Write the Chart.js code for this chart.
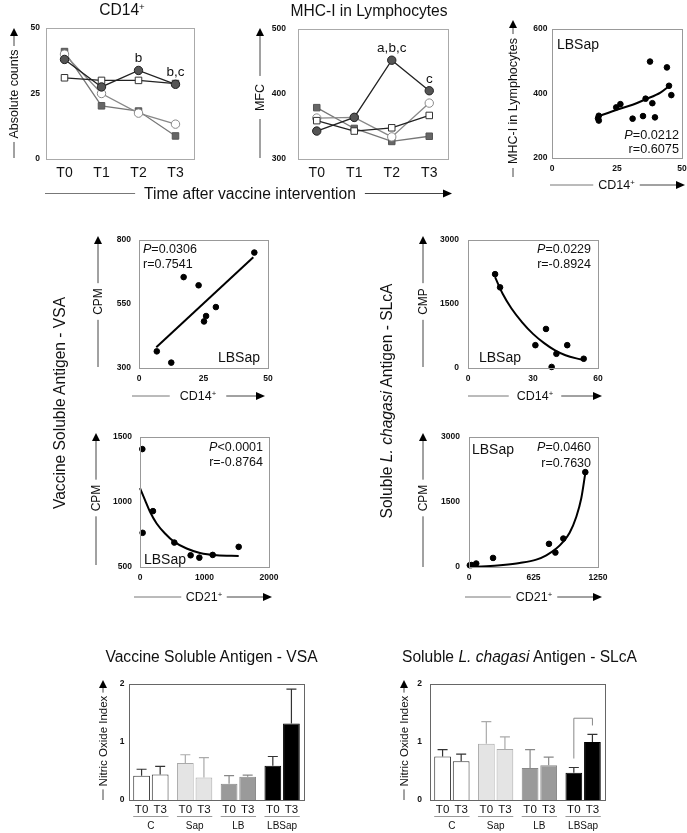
<!DOCTYPE html>
<html>
<head>
<meta charset="utf-8">
<script src="https://cdn.jsdelivr.net/npm/chart.js@4.4.1/dist/chart.umd.min.js"></script>
<style>
  body { margin: 0; background: #fff; }
  #fig { position: relative; width: 687px; height: 833px; overflow: hidden; }
  #fig canvas { position: absolute; }
  #deco { position: absolute; left: 0; top: 0; z-index: 2; pointer-events: none; }
</style>
</head>
<body>
<div id="fig"><svg id="deco" width="687" height="833" xmlns="http://www.w3.org/2000/svg"></svg></div>
<script>
// ---- data ----
const timepoints = ['T0', 'T1', 'T2', 'T3'];
const cd14C = [31, 30, 30, 28.8];
const cd14Sap = [40, 25, 17.5, 13.3];
const cd14LB = [41, 20.3, 18.3, 8.8];
const cd14LBSap = [38, 27.5, 33.8, 28.5];
const cd14Sig = ['', '', 'b', 'b,c'];
const mhcC = [359, 343, 348, 367];
const mhcSap = [363, 364, 334, 386];
const mhcLB = [379, 347, 327, 335];
const mhcLBSap = [343, 364, 452, 405];
const mhcSig = ['', '', 'a,b,c', 'c'];

// MHC-I vs CD14+ (LBSap)
const mhcCd14X = [17.7, 18, 18, 24.7, 26.3, 31, 35, 36, 37.7, 38.6, 39.6, 44.2, 45, 45.9];
const mhcCd14Y = [323, 316, 331, 357, 367, 322, 330, 384, 499, 370, 326, 481, 424, 395];
const mhcCd14FitX = [17.7, 24.7, 31, 36, 41.7, 45.5];
const mhcCd14FitY = [329, 349, 365, 382, 403, 426];

// VSA CPM vs CD14+
const vsaCd14X = [6.9, 12.5, 17.3, 23.1, 25.2, 26, 29.8, 44.7];
const vsaCd14Y = [365, 321, 655, 623, 482, 503, 538, 751];
const vsaCd14FitX = [6.7, 44.3];
const vsaCd14FitY = [381, 733];

// SLcA CMP vs CD14+
const slcaCd14X = [12.5, 14.8, 31.1, 36, 38.6, 40.8, 45.8, 53.4];
const slcaCd14Y = [2200, 1890, 535, 915, 25, 333, 535, 217];
const slcaCd14FitX = [12.5, 16, 20, 25, 30, 35, 40, 45, 50, 53.4];
const slcaCd14FitY = [2130, 1740, 1400, 1070, 800, 590, 420, 300, 225, 190];

// VSA CPM vs CD21+
const vsaCd21X = [36, 41, 201, 532, 785, 920, 1127, 1530];
const vsaCd21Y = [1407, 763, 930, 688, 590, 572, 593, 655];
const vsaCd21FitX = [0, 78, 155, 258, 388, 532, 723, 930, 1189, 1530];
const vsaCd21FitY = [1106, 1015, 925, 835, 758, 693, 642, 608, 590, 585];

// SLcA CPM vs CD21+
const slcaCd21X = [8, 25, 70, 233, 775, 837, 914, 1127];
const slcaCd21Y = [40, 45, 80, 209, 534, 333, 657, 2189];
const slcaCd21FitX = [0, 168, 329, 491, 652, 749, 846, 911, 975, 1040, 1088, 1127];
const slcaCd21FitY = [0, 15, 46, 93, 170, 271, 425, 580, 789, 1160, 1585, 2165];

// nitric oxide index
const groups = ['C', 'Sap', 'LB', 'LBSap'];
const vsaT0 = [0.42, 0.64, 0.28, 0.59];
const vsaT0Err = [0.11, 0.14, 0.14, 0.16];
const vsaT3 = [0.44, 0.39, 0.40, 1.32];
const vsaT3Err = [0.14, 0.34, 0.03, 0.59];
const slcaT0 = [0.75, 0.97, 0.55, 0.47];
const slcaT0Err = [0.12, 0.38, 0.32, 0.09];
const slcaT3 = [0.67, 0.88, 0.60, 1.00];
const slcaT3Err = [0.12, 0.21, 0.14, 0.13];

// ---- setup ----
const FONT = '"Liberation Sans", Arial, Helvetica, sans-serif';
Chart.defaults.font.family = FONT;
Chart.defaults.color = '#111';
Chart.defaults.animation = false;

const YW = 32, PT = 8, PR = 14;
const fig = document.getElementById('fig');
const svg = document.getElementById('deco');
const NS = 'http://www.w3.org/2000/svg';

const groupFill = ['#ffffff', '#e4e4e4', '#9a9a9a', '#000000'];
const groupEdge = ['#333333', '#aaaaaa', '#888888', '#000000'];
const groupErr = ['#333333', '#aaaaaa', '#888888', '#333333'];

// plot boxes [left, top, right, bottom] on the page
const B1 = [46, 28, 194, 159];
const B2 = [298, 29, 448, 159];
const B3 = [552, 29, 682, 158];
const B4 = [139, 240, 268, 368];
const B5 = [468, 240, 598, 368];
const B6 = [140, 437, 269, 567];
const B7 = [469, 437, 598, 567];
const B8 = [129, 684, 304, 800];
const B9 = [430, 684, 605, 800];

const frame = color => ({
  id: 'frame',
  afterDraw(chart) {
    const { ctx, chartArea: a } = chart;
    ctx.save();
    ctx.strokeStyle = color;
    ctx.lineWidth = 1;
    ctx.strokeRect(Math.round(a.left) + 0.5, Math.round(a.top) + 0.5, Math.round(a.width), Math.round(a.height));
    ctx.restore();
  }
});

const sig = (di, labels) => ({
  id: 'sig',
  afterDatasetsDraw(chart) {
    const { ctx } = chart;
    const pts = chart.getDatasetMeta(di).data;
    ctx.save();
    ctx.font = '13.5px ' + FONT;
    ctx.fillStyle = '#111';
    ctx.textAlign = 'center';
    ctx.textBaseline = 'alphabetic';
    labels.forEach((s, i) => { if (s) ctx.fillText(s, pts[i].x, pts[i].y - 8); });
    ctx.restore();
  }
});

const errBars = (errs, bracket) => ({
  id: 'errBars',
  afterDatasetsDraw(chart) {
    const { ctx, scales: { y } } = chart;
    ctx.save();
    ctx.lineWidth = 1.2;
    const tops = chart.data.datasets.map((ds, i) => chart.getDatasetMeta(i).data.map((bar, j) => {
      const top = y.getPixelForValue(ds.data[j] + errs[i][j]);
      ctx.strokeStyle = groupErr[j];
      ctx.beginPath();
      ctx.moveTo(bar.x, bar.y);
      ctx.lineTo(bar.x, top);
      ctx.moveTo(bar.x - 5, top);
      ctx.lineTo(bar.x + 5, top);
      ctx.stroke();
      return top;
    }));
    if (bracket) {
      const j = bracket.group, yl = y.getPixelForValue(bracket.level);
      const b0 = chart.getDatasetMeta(0).data[j], b1 = chart.getDatasetMeta(1).data[j];
      ctx.strokeStyle = '#888';
      ctx.lineWidth = 1;
      ctx.beginPath();
      ctx.moveTo(b0.x, tops[0][j] - bracket.gap);
      ctx.lineTo(b0.x, yl);
      ctx.lineTo(b1.x, yl);
      ctx.lineTo(b1.x, tops[1][j] - bracket.gap);
      ctx.stroke();
    }
    ctx.restore();
  }
});

// T0/T3 under each bar, a rule and the group name under each pair
const barAxis = {
  id: 'barAxis',
  afterDraw(chart) {
    const { ctx, chartArea: a } = chart;
    ctx.save();
    ctx.fillStyle = '#111';
    ctx.textAlign = 'center';
    ctx.textBaseline = 'middle';
    ctx.font = '11.5px ' + FONT;
    chart.data.datasets.forEach((ds, i) => {
      chart.getDatasetMeta(i).data.forEach(bar => ctx.fillText(ds.label, bar.x, a.bottom + 10));
    });
    const m0 = chart.getDatasetMeta(0).data, m1 = chart.getDatasetMeta(1).data;
    ctx.font = '10px ' + FONT;
    ctx.strokeStyle = '#999';
    ctx.lineWidth = 1;
    chart.data.labels.forEach((g, j) => {
      const x0 = m0[j].x - m0[j].width / 2, x1 = m1[j].x + m1[j].width / 2;
      ctx.beginPath();
      ctx.moveTo(x0, a.bottom + 16.5);
      ctx.lineTo(x1, a.bottom + 16.5);
      ctx.stroke();
      ctx.fillText(g, (x0 + x1) / 2, a.bottom + 26.5);
    });
    ctx.restore();
  }
};

// keep the plot box where it was placed: no label padding pushed into the layout
function noPad(s) {
  s.paddingTop = 0;
  s.paddingBottom = 0;
  s.paddingLeft = 0;
  s.paddingRight = 0;
}

const plain = v => String(v);

function yAxis(min, max, step, pad) {
  return {
    min, max,
    ticks: { stepSize: step, padding: pad, color: '#111', font: { size: 8.5, weight: 'bold' }, callback: plain },
    grid: { display: false, drawTicks: false },
    border: { display: false },
    afterFit: s => { s.width = YW; noPad(s); }
  };
}

function xLinear(min, max, step, h) {
  return {
    type: 'linear', min, max,
    ticks: { stepSize: step, padding: 6, color: '#111', font: { size: 8.5, weight: 'bold' }, callback: plain },
    grid: { display: false, drawTicks: false },
    border: { display: false },
    afterFit: s => { s.height = h; noPad(s); }
  };
}

function panel(box, xh, config) {
  const cv = document.createElement('canvas');
  const w = box[2] - box[0] + YW + PR, h = box[3] - box[1] + PT + xh;
  cv.width = w;
  cv.height = h;
  cv.style.left = (box[0] - YW) + 'px';
  cv.style.top = (box[1] - PT) + 'px';
  cv.style.width = w + 'px';
  cv.style.height = h + 'px';
  fig.insertBefore(cv, svg);
  const o = config.options;
  o.responsive = false;
  o.layout = { padding: { top: PT, right: PR, left: 0, bottom: 0 }, autoPadding: false };
  o.plugins = { legend: { display: false }, tooltip: { enabled: false } };
  return new Chart(cv, config);
}

// ---- kinetics (top row) ----
const styleLBSap = { borderColor: '#222', pointStyle: 'circle', pointRadius: 4.2, pointBackgroundColor: '#555', pointBorderColor: '#222' };
const styleC = { borderColor: '#222', pointStyle: 'rect', pointRadius: 4.6, pointBackgroundColor: '#fff', pointBorderColor: '#333' };
const styleSap = { borderColor: '#888', pointStyle: 'circle', pointRadius: 4.2, pointBackgroundColor: '#fff', pointBorderColor: '#888' };
const styleLB = { borderColor: '#777', pointStyle: 'rect', pointRadius: 4.6, pointBackgroundColor: '#666', pointBorderColor: '#555' };

function kin(data, style) {
  return Object.assign({ data, borderWidth: 1.3, pointBorderWidth: 1, clip: false }, style);
}

function kinChart(box, sets, yr, pad, sigLabels) {
  return panel(box, 24, {
    type: 'line',
    data: {
      labels: timepoints,
      datasets: [kin(sets[0], styleLBSap), kin(sets[1], styleC), kin(sets[2], styleSap), kin(sets[3], styleLB)]
    },
    options: {
      scales: {
        x: {
          type: 'category', offset: true,
          ticks: { padding: 6, color: '#111', font: { size: 14 } },
          grid: { display: false, drawTicks: false, offset: true },
          border: { display: false },
          afterFit: s => { s.height = 24; noPad(s); }
        },
        y: yAxis(yr[0], yr[1], yr[2], pad)
      }
    },
    plugins: [frame('#aaa'), sig(0, sigLabels)]
  });
}

kinChart(B1, [cd14LBSap, cd14C, cd14Sap, cd14LB], [0, 50, 25], 6, cd14Sig);
kinChart(B2, [mhcLBSap, mhcC, mhcSap, mhcLB], [300, 500, 100], 12, mhcSig);

// ---- correlations ----
function scatterChart(box, xs, ys, fx, fy, xr, yr, pad) {
  return panel(box, 20, {
    type: 'scatter',
    data: {
      datasets: [
        { data: xs.map((x, i) => ({ x, y: ys[i] })), pointRadius: 2.8, pointBackgroundColor: '#000', pointBorderColor: '#000', showLine: false, clip: false },
        { data: fx.map((x, i) => ({ x, y: fy[i] })), showLine: true, borderColor: '#000', borderWidth: 2, pointRadius: 0, cubicInterpolationMode: 'monotone', clip: false }
      ]
    },
    options: { scales: { x: xLinear(xr[0], xr[1], xr[2], 20), y: yAxis(yr[0], yr[1], yr[2], pad) } },
    plugins: [frame('#999')]
  });
}

scatterChart(B3, mhcCd14X, mhcCd14Y, mhcCd14FitX, mhcCd14FitY, [0, 50, 25], [200, 600, 200], 4.5);
scatterChart(B4, vsaCd14X, vsaCd14Y, vsaCd14FitX, vsaCd14FitY, [0, 50, 25], [300, 800, 250], 8);
scatterChart(B5, slcaCd14X, slcaCd14Y, slcaCd14FitX, slcaCd14FitY, [0, 60, 30], [0, 3000, 1500], 9);
scatterChart(B6, vsaCd21X, vsaCd21Y, vsaCd21FitX, vsaCd21FitY, [0, 2000, 1000], [500, 1500, 500], 8);
scatterChart(B7, slcaCd21X, slcaCd21Y, slcaCd21FitX, slcaCd21FitY, [0, 1250, 625], [0, 3000, 1500], 9);

// ---- nitric oxide bars ----
function barSet(label, data) {
  return { label, data, backgroundColor: groupFill, borderColor: groupEdge, borderWidth: 1, categoryPercentage: 0.85, barPercentage: 0.9 };
}

function barChart(box, t0, t3, e0, e3, pad, bracket) {
  return panel(box, 33, {
    type: 'bar',
    data: { labels: groups, datasets: [barSet('T0', t0), barSet('T3', t3)] },
    options: {
      scales: {
        x: {
          ticks: { display: false },
          grid: { display: false, drawTicks: false },
          border: { display: false },
          afterFit: s => { s.height = 33; noPad(s); }
        },
        y: yAxis(0, 2, 1, pad)
      }
    },
    plugins: [errBars([e0, e3], bracket), frame('#666'), barAxis]
  });
}

barChart(B8, vsaT0, vsaT3, vsaT0Err, vsaT3Err, 4.5, null);
barChart(B9, slcaT0, slcaT3, slcaT0Err, slcaT3Err, 8, { group: 3, level: 1.41, gap: 9 });

// ---- titles, axis titles and arrows ----
function el(tag, attrs, parent) {
  const e = document.createElementNS(NS, tag);
  Object.entries(attrs).forEach(([k, v]) => e.setAttribute(k, v));
  (parent || svg).appendChild(e);
  return e;
}

function label(runs, x, yc, size, rot, anchor) {
  const t = el('text', {
    x, y: yc + size * 0.35, 'font-size': size, 'font-family': FONT,
    'text-anchor': anchor || 'middle', fill: '#111'
  });
  if (rot) t.setAttribute('transform', `rotate(${rot} ${x} ${yc})`);
  runs.forEach(r => {
    const sp = el('tspan', {}, t);
    if (r[1]) sp.setAttribute('font-style', 'italic');
    if (r[2]) { sp.setAttribute('baseline-shift', 'super'); sp.setAttribute('font-size', size * 0.62); }
    sp.textContent = r[0];
  });
  return t;
}

function seg(x1, y1, x2, y2, color) {
  el('line', { x1, y1, x2, y2, stroke: color || '#444', 'stroke-width': 1 });
}

function headUp(x, y) {
  el('polygon', { points: `${x},${y} ${x - 4},${y + 8} ${x + 4},${y + 8}`, fill: '#000' });
}

function headRight(x, y) {
  el('polygon', { points: `${x},${y} ${x - 9},${y - 4} ${x - 9},${y + 4}`, fill: '#000' });
}

function vArrow(x, yBot, yTip, runs, size, yc, gap) {
  const t = label(runs, x, yc, size, -90);
  const half = t.getComputedTextLength() / 2;
  seg(x, yBot, x, yc + half + gap);
  if (yc - half - gap > yTip + 9) seg(x, yc - half - gap, x, yTip + 7);
  headUp(x, yTip);
}

function hArrow(y, xStart, xTip, runs, size, xc, gap) {
  const t = label(runs, xc, y, size, 0);
  const half = t.getComputedTextLength() / 2;
  seg(xStart, y, xc - half - gap, y, '#777');
  seg(xc + half + gap, y, xTip - 8, y);
  headRight(xTip, y);
}

function note(box, ax, dx, ay, dy, runs, size) {
  const x = ax === 'l' ? box[0] + dx : box[2] + dx;
  const y = ay === 't' ? box[1] + dy : box[3] + dy;
  label(runs, x, y, size, 0, ax === 'l' ? 'start' : 'end');
}

const CD14 = [['CD14'], ['+', 0, 1]];
const CD21 = [['CD21'], ['+', 0, 1]];
const BIG = 15.6;

label(CD14, 122, 10, BIG, 0);
label([['MHC-I in Lymphocytes']], 369, 11, BIG, 0);
hArrow(193.5, 45, 452, [['Time after vaccine intervention']], BIG, 250, 9);
vArrow(14, 158, 28, [['Absolute counts']], 12.5, 94, 3.5);
vArrow(260, 158, 28, [['MFC']], 12.5, 97.5, 8);
vArrow(513, 177, 20, [['MHC-I in Lymphocytes']], 12.5, 101, 4);
hArrow(185, 550, 685, CD14, 12.5, 616.5, 5);

label([['Vaccine Soluble Antigen - VSA']], 59.5, 403, BIG, -90);
label([['Soluble '], ['L. chagasi', 1], [' Antigen - SLcA']], 387, 401, BIG, -90);

vArrow(98, 367, 236, [['CPM']], 12, 301.5, 5);
hArrow(396, 132, 265, CD14, 12.5, 198, 10);
vArrow(423, 367, 236, [['CMP']], 12, 301.5, 5);
hArrow(396, 468, 602, CD14, 12.5, 535, 8);
vArrow(96, 565, 433, [['CPM']], 12, 498, 5);
hArrow(597, 134, 272, CD21, 12.5, 204, 4.5);
vArrow(423, 567, 433, [['CPM']], 12, 498, 5);
hArrow(597, 465, 602, CD21, 12.5, 534, 5);

label([['Vaccine Soluble Antigen - VSA']], 211.5, 657, BIG, 0);
label([['Soluble '], ['L. chagasi', 1], [' Antigen - SLcA']], 519.5, 657, BIG, 0);
vArrow(103, 800, 680, [['Nitric Oxide Index']], 11.5, 741, 3);
vArrow(404, 800, 680, [['Nitric Oxide Index']], 11.5, 741, 3);

// statistics inside the correlation panels
note(B3, 'l', 5, 't', 15, [['LBSap']], 14);
note(B3, 'r', -3, 'b', -23.5, [['P', 1], ['=0.0212']], 12.7);
note(B3, 'r', -3, 'b', -9.5, [['r=0.6075']], 12.7);
note(B4, 'l', 4, 't', 9, [['P', 1], ['=0.0306']], 12.5);
note(B4, 'l', 4, 't', 24, [['r=0.7541']], 12.5);
note(B4, 'r', -8, 'b', -11, [['LBSap']], 14);
note(B5, 'r', -7, 't', 9, [['P', 1], ['=0.0229']], 12.5);
note(B5, 'r', -7, 't', 24, [['r=-0.8924']], 12.5);
note(B5, 'l', 11, 'b', -11, [['LBSap']], 14);
note(B6, 'r', -6, 't', 10, [['P', 1], ['<0.0001']], 12.5);
note(B6, 'r', -6, 't', 25, [['r=-0.8764']], 12.5);
note(B6, 'l', 4, 'b', -7.5, [['LBSap']], 14);
note(B7, 'l', 3, 't', 12, [['LBSap']], 14);
note(B7, 'r', -7, 't', 10, [['P', 1], ['=0.0460']], 12.5);
note(B7, 'r', -7, 't', 25.5, [['r=0.7630']], 12.5);
</script>
</body>
</html>
